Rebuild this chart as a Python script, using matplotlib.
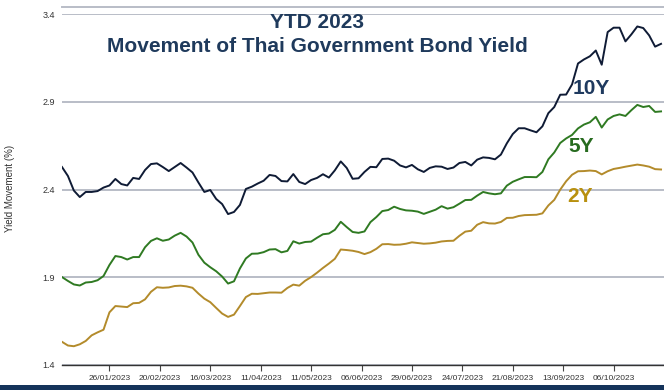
import numpy as np
import matplotlib
matplotlib.use("Agg")
import matplotlib.pyplot as plt
from matplotlib.lines import Line2D

# ---- data (sampled every 2 trading days from 03/01/2023) ----
yield_10y = [2.528, 2.477, 2.394, 2.357, 2.386, 2.386, 2.391, 2.411, 2.423, 2.460,
             2.431, 2.423, 2.466, 2.460, 2.511, 2.545, 2.549, 2.528, 2.505, 2.528,
             2.551, 2.525, 2.497, 2.440, 2.386, 2.397, 2.346, 2.317, 2.260, 2.272,
             2.312, 2.403, 2.416, 2.434, 2.450, 2.483, 2.477, 2.448, 2.446, 2.488,
             2.443, 2.431, 2.454, 2.466, 2.487, 2.468, 2.509, 2.560, 2.523, 2.461,
             2.464, 2.500, 2.529, 2.527, 2.574, 2.576, 2.564, 2.537, 2.526, 2.540,
             2.515, 2.500, 2.523, 2.532, 2.530, 2.517, 2.525, 2.551, 2.557, 2.537,
             2.570, 2.583, 2.580, 2.572, 2.599, 2.663, 2.716, 2.749, 2.749, 2.737,
             2.726, 2.760, 2.835, 2.870, 2.940, 2.941, 2.999, 3.118, 3.141, 3.159,
             3.192, 3.111, 3.297, 3.322, 3.322, 3.244, 3.284, 3.329, 3.320, 3.278,
             3.214, 3.230]

yield_5y = [1.901, 1.879, 1.859, 1.853, 1.870, 1.873, 1.883, 1.907, 1.970, 2.021,
            2.015, 2.001, 2.015, 2.015, 2.071, 2.107, 2.122, 2.108, 2.115, 2.137,
            2.153, 2.132, 2.098, 2.028, 1.983, 1.957, 1.934, 1.904, 1.864, 1.877,
            1.950, 2.007, 2.034, 2.035, 2.043, 2.058, 2.060, 2.042, 2.050, 2.105,
            2.092, 2.101, 2.103, 2.125, 2.145, 2.149, 2.170, 2.216, 2.186, 2.158,
            2.153, 2.161, 2.214, 2.243, 2.277, 2.283, 2.302, 2.289, 2.281, 2.279,
            2.274, 2.261, 2.273, 2.285, 2.305, 2.291, 2.299, 2.319, 2.340, 2.341,
            2.365, 2.386, 2.378, 2.373, 2.378, 2.422, 2.444, 2.458, 2.471, 2.471,
            2.470, 2.500, 2.572, 2.611, 2.665, 2.691, 2.711, 2.748, 2.770, 2.783,
            2.814, 2.753, 2.799, 2.819, 2.828, 2.819, 2.852, 2.882, 2.870, 2.876,
            2.842, 2.845]

yield_2y = [1.532, 1.511, 1.507, 1.518, 1.537, 1.569, 1.586, 1.601, 1.700, 1.736,
            1.733, 1.730, 1.752, 1.754, 1.774, 1.817, 1.843, 1.840, 1.842, 1.850,
            1.852, 1.848, 1.840, 1.807, 1.778, 1.758, 1.725, 1.693, 1.674, 1.687,
            1.736, 1.787, 1.806, 1.805, 1.809, 1.813, 1.813, 1.812, 1.839, 1.858,
            1.852, 1.880, 1.901, 1.926, 1.953, 1.978, 2.005, 2.058, 2.055, 2.051,
            2.044, 2.032, 2.043, 2.062, 2.088, 2.089, 2.085, 2.086, 2.091, 2.099,
            2.095, 2.091, 2.093, 2.097, 2.104, 2.107, 2.108, 2.136, 2.160, 2.165,
            2.199, 2.214, 2.207, 2.206, 2.215, 2.238, 2.239, 2.249, 2.254, 2.255,
            2.256, 2.264, 2.309, 2.341, 2.399, 2.447, 2.484, 2.504, 2.505, 2.508,
            2.505, 2.486, 2.504, 2.517, 2.523, 2.530, 2.536, 2.542, 2.537, 2.530,
            2.516, 2.514]

tick_labels = ["26/01/2023", "20/02/2023", "16/03/2023", "11/04/2023", "11/05/2023",
               "06/06/2023", "29/06/2023", "24/07/2023", "21/08/2023", "13/09/2023",
               "06/10/2023"]
tick_days = [16, 33, 50, 67, 84, 101, 118, 135, 152, 169, 186]
y_ticks = [1.4, 1.9, 2.4, 2.9, 3.4]

day_step = 2
days = np.arange(len(yield_10y)) * day_step

# ---- styling ----
small_font = ["Liberation Sans", "DejaVu Sans"]
bold_font = ["Liberation Sans", "DejaVu Sans"]
grid_col = "#b9bdc7"
title_col = "#1f3a5c"

fig = plt.figure(figsize=(6.64, 3.90), dpi=100)
ax = fig.add_axes([62 / 664, 1 - 365 / 390, 602 / 664, 351 / 390])

ax.plot(days, yield_2y, color="#b38b2b", lw=1.4, zorder=3)
ax.plot(days, yield_5y, color="#2f7a22", lw=1.4, zorder=3)
ax.plot(days, yield_10y, color="#0f1b35", lw=1.4, zorder=3)

ax.set_xlim(0, 203)
ax.set_ylim(1.4, 3.4)
ax.set_yticks(y_ticks)
ax.set_yticklabels([f"{v:.1f}" for v in y_ticks], fontfamily=small_font, fontsize=6.5,
                   color="#333333")
ax.set_xticks(tick_days)
ax.set_xticklabels(tick_labels, fontfamily=small_font, fontsize=6, color="#333333")
ax.tick_params(axis="y", length=0, pad=5)
ax.tick_params(axis="x", length=4, width=0.8, color="#444444", pad=3)

ax.grid(axis="y", color=grid_col, lw=1.4, zorder=1)
ax.set_axisbelow(True)
for s in ["top", "right", "left"]:
    ax.spines[s].set_visible(False)
ax.spines["bottom"].set_color("#333333")
ax.spines["bottom"].set_linewidth(1.0)
ax.spines["bottom"].set_zorder(4)

# top extra rule
fig.add_artist(Line2D([62 / 664, 1.0], [1 - 7 / 390, 1 - 7 / 390],
                      color=grid_col, lw=1.4, transform=fig.transFigure))

# titles
fig.text(317 / 664, 1 - 23 / 390, "YTD 2023", ha="center", va="center",
         fontsize=15, fontweight="bold", color=title_col, fontfamily=bold_font)
fig.text(317 / 664, 1 - 46 / 390, "Movement of Thai Government Bond Yield", ha="center",
         va="center", fontsize=15, fontweight="bold", color=title_col, fontfamily=bold_font)

# series labels
fig.text(573 / 664, 1 - 89 / 390, "10Y", ha="left", va="center", fontsize=15,
         fontweight="bold", color="#1f3a5f", fontfamily=bold_font)
fig.text(568 / 664, 1 - 147 / 390, "5Y", ha="left", va="center", fontsize=15,
         fontweight="bold", color="#276b1f", fontfamily=bold_font)
fig.text(567 / 664, 1 - 196 / 390, "2Y", ha="left", va="center", fontsize=15,
         fontweight="bold", color="#b8900f", fontfamily=bold_font)

# y label
fig.text(10 / 664, 1 - 188 / 390, "Yield Movement (%)", rotation=90, ha="center",
         va="center", fontsize=7, color="#333333", fontfamily=small_font)

# bottom band
fig.add_artist(plt.Rectangle((0, 0), 1, 5 / 390, transform=fig.transFigure,
                             color="#14335a", lw=0))

fig.savefig("out.png", dpi=100)
